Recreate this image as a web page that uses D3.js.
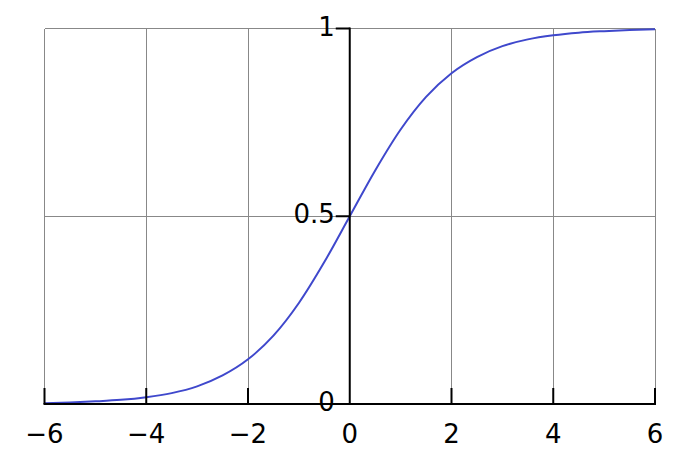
<!DOCTYPE html>
<html><head><meta charset="utf-8">
<script src="https://cdn.jsdelivr.net/npm/d3@7"></script>
<style>body{margin:0;background:#fff}svg{display:block}</style>
</head><body>
<svg id="c" width="700" height="467"></svg>
<script>
const xs = [-6,-5.5,-5,-4.5,-4,-3.5,-3,-2.5,-2,-1.5,-1,-0.5,0,0.5,1,1.5,2,2.5,3,3.5,4,4.5,5,5.5,6];
const ys = [0.002,0.004,0.007,0.011,0.018,0.029,0.047,0.076,0.119,0.182,0.269,0.378,0.5,0.622,0.731,0.818,0.881,0.924,0.953,0.971,0.982,0.989,0.993,0.996,0.998];
const xTicks = [-6,-4,-2,0,2,4,6];
const yTicks = [0,0.5,1];
const yTickLabels = ["0","0.5","1"];

const svg = d3.select("#c");
const x = d3.scaleLinear().domain([-6,6]).range([44.5,655]);
const y = d3.scaleLinear().domain([0,1]).range([404,28.5]);
const font = "DejaVu Sans, sans-serif";

// grid
const g = svg.append("g").attr("stroke","#888").attr("stroke-width",1).attr("shape-rendering","crispEdges");
xTicks.filter(d=>d!==0).forEach(d=>{
  g.append("line").attr("x1",x(d)).attr("x2",x(d)).attr("y1",y(0)).attr("y2",y(1));
});
yTicks.filter(d=>d!==0).forEach(d=>{
  g.append("line").attr("x1",x(-6)).attr("x2",x(6)).attr("y1",y(d)).attr("y2",y(d));
});

// curve
const line = d3.line().x((d,i)=>x(xs[i])).y(d=>y(d)).curve(d3.curveMonotoneX);
svg.append("path").datum(ys).attr("d",line).attr("fill","none").attr("stroke","#3f48cc").attr("stroke-width",2);

// axes
const a = svg.append("g").attr("stroke","#000").attr("stroke-width",2);
a.append("line").attr("x1",x(-6)-1).attr("x2",x(6)+1).attr("y1",y(0)).attr("y2",y(0));
a.append("line").attr("x1",x(0)).attr("x2",x(0)).attr("y1",y(0)+1).attr("y2",y(1)-1);
xTicks.filter(d=>d!==0).forEach(d=>{
  a.append("line").attr("x1",x(d)).attr("x2",x(d)).attr("y1",y(0)).attr("y2",y(0)-16);
});
yTicks.forEach(d=>{
  a.append("line").attr("x1",x(0)).attr("x2",x(0)-14).attr("y1",y(d)).attr("y2",y(d));
});

// labels
svg.append("g").selectAll("text").data(xTicks).join("text")
  .attr("x",d=>x(d)).attr("y",443).attr("text-anchor","middle")
  .attr("font-family",font).attr("font-size",26)
  .text(d=>d<0?"\u2212"+Math.abs(d):String(d));
svg.append("g").selectAll("text").data(yTicks).join("text")
  .attr("x",x(0)-15).attr("y",d=>y(d)+7).attr("text-anchor","end")
  .attr("font-family",font).attr("font-size",26)
  .text((d,i)=>yTickLabels[i]);
</script>
</body></html>
